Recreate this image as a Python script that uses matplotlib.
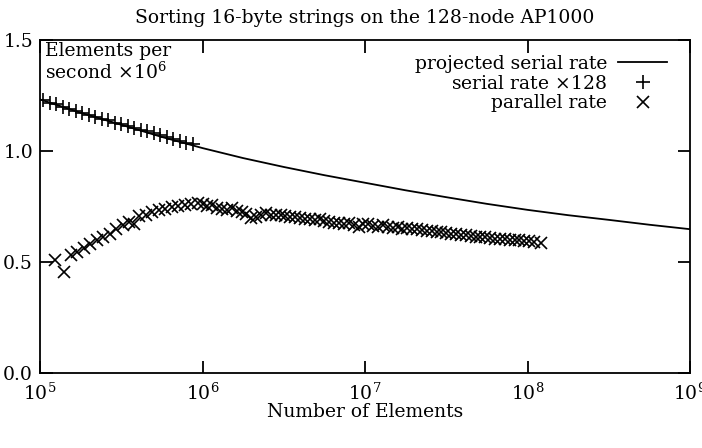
import numpy as np
import matplotlib.pyplot as plt

# projected serial rate (log10 of element count, rate in 10^6 elements/s)
proj_exp = [5.0, 5.25, 5.5, 5.75, 6.0, 6.25, 6.5, 6.75, 7.0, 7.25, 7.5, 7.75, 8.0, 8.25, 8.5, 8.75, 9.0]
proj_rate = [1.232, 1.172, 1.118, 1.063, 1.013, 0.968, 0.928, 0.891, 0.857, 0.823, 0.792, 0.762,
             0.735, 0.711, 0.690, 0.668, 0.648]

# serial rate x128 (measured)
serial_exp = [5.02, 5.06, 5.10, 5.14, 5.18, 5.22, 5.26, 5.30, 5.34, 5.38, 5.42, 5.46,
              5.50, 5.54, 5.58, 5.62, 5.66, 5.70, 5.74, 5.78, 5.82, 5.86, 5.90, 5.94]
serial_rate = [1.228, 1.218, 1.210, 1.198, 1.190, 1.180, 1.172, 1.162, 1.155, 1.145, 1.138, 1.128,
               1.120, 1.112, 1.104, 1.096, 1.088, 1.080, 1.072, 1.064, 1.056, 1.046, 1.038, 1.030]

# parallel rate (measured)
par_exp = [5.09, 5.15, 5.19, 5.23, 5.27, 5.31, 5.35, 5.39, 5.43, 5.47, 5.51, 5.55,
           5.58, 5.61, 5.65, 5.69, 5.73, 5.77, 5.81, 5.85, 5.89, 5.93, 5.97,
           6.00, 6.03, 6.06, 6.09, 6.12, 6.15, 6.18, 6.21, 6.24, 6.27, 6.30, 6.33,
           6.36, 6.39, 6.42, 6.45, 6.48, 6.51, 6.54, 6.57, 6.60, 6.63, 6.66, 6.69,
           6.72, 6.75, 6.78, 6.81, 6.84, 6.87, 6.90, 6.93, 6.96, 6.99, 7.02, 7.05,
           7.08, 7.11, 7.14, 7.17, 7.20, 7.23, 7.26, 7.29, 7.32, 7.35, 7.38, 7.41,
           7.44, 7.47, 7.50, 7.53, 7.56, 7.59, 7.62, 7.65, 7.68, 7.71, 7.74, 7.77,
           7.80, 7.83, 7.86, 7.89, 7.92, 7.95, 7.98, 8.01, 8.04, 8.08]
par_rate = [0.509, 0.456, 0.530, 0.546, 0.565, 0.582, 0.598, 0.612, 0.628, 0.648, 0.668, 0.680,
            0.672, 0.708, 0.712, 0.725, 0.735, 0.740, 0.748, 0.752, 0.758, 0.762, 0.766,
            0.760, 0.752, 0.758, 0.745, 0.740, 0.735, 0.742, 0.730, 0.725, 0.718, 0.700, 0.702,
            0.712, 0.720, 0.714, 0.712, 0.710, 0.706, 0.704, 0.703, 0.700, 0.696, 0.692, 0.688,
            0.695, 0.686, 0.680, 0.676, 0.674, 0.672, 0.678, 0.668, 0.660, 0.670, 0.672, 0.664,
            0.660, 0.668, 0.658, 0.652, 0.656, 0.650, 0.654, 0.648, 0.650, 0.646, 0.640, 0.642,
            0.636, 0.634, 0.630, 0.628, 0.626, 0.624, 0.620, 0.618, 0.615, 0.612, 0.612, 0.608,
            0.606, 0.604, 0.603, 0.600, 0.598, 0.598, 0.596, 0.594, 0.592, 0.588]

plt.rcParams['font.family'] = ['DejaVu Serif']
plt.rcParams['mathtext.fontset'] = 'custom'
plt.rcParams['mathtext.rm'] = 'DejaVu Serif'
plt.rcParams['font.size'] = 13.5

fig = plt.figure(figsize=(7.02, 4.48), dpi=100)
ax = fig.add_axes([0.057, 0.167, 0.926, 0.744])

ax.plot(10.0 ** np.array(proj_exp), proj_rate, color='black', lw=1.3,
        label='projected serial rate')
ax.plot(10.0 ** np.array(serial_exp), serial_rate, ls='none', marker='+', ms=9.5,
        mew=1.2, color='black', label='serial rate $\\times$128')
ax.plot(10.0 ** np.array(par_exp), par_rate, ls='none', marker='x', ms=9,
        mew=1.2, color='black', label='parallel rate')

ax.set_xscale('log')
ax.set_xlim(1e5, 1e9)
ax.set_ylim(0, 1.5)
ax.set_xticks([1e5, 1e6, 1e7, 1e8, 1e9])
ax.set_yticks([0.0, 0.5, 1.0, 1.5])
ax.set_yticklabels(['0.0', '0.5', '1.0', '1.5'])
ax.minorticks_off()
ax.tick_params(direction='in', length=9, width=1.3, top=True, right=True, pad=5)
ax.tick_params(axis='x', pad=7)
for s in ax.spines.values():
    s.set_linewidth(1.3)

ax.set_title('Sorting 16-byte strings on the 128-node AP1000', fontsize=13.5, pad=12)
ax.set_xlabel('Number of Elements', labelpad=-1)
ax.text(0.008, 0.995, 'Elements per\nsecond $\\times$10$^6$', transform=ax.transAxes,
        va='top', ha='left', linespacing=1.05)

ax.legend(loc='upper right', markerfirst=False, frameon=False, handlelength=2.6,
          handletextpad=0.6, labelspacing=0.1, borderaxespad=0.3,
          bbox_to_anchor=(0.985, 0.995))

fig.savefig('out.png', dpi=100)
